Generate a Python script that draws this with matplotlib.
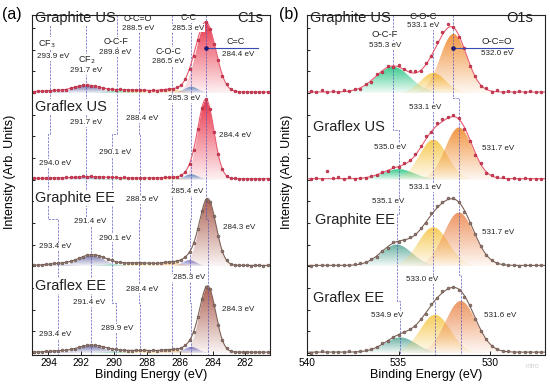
#! /usr/bin/env python3

import numpy as np
import matplotlib
matplotlib.use('Agg')
import matplotlib.pyplot as plt
from matplotlib.colors import LinearSegmentedColormap, to_rgb

plt.rcParams['font.family'] = ['Liberation Sans', 'DejaVu Sans']

##
## Samples, stacked from top to bottom
##
samples = ['Graphite US', 'Graflex US', 'Graphite EE', 'Graflex EE']
offsets = [3, 2, 1, 0]
background = 0.01

##
## C1s measured points (0.25 eV steps)
##
c1s_energy = np.round(np.arange(294.9, 280.6, -0.25), 2)
c1s_graphite_us = [0.015, 0.022, 0.018, 0.027, 0.024, 0.030, 0.028, 0.035, 0.038, 0.052,
                   0.063, 0.080, 0.086, 0.093, 0.083, 0.075, 0.062, 0.055, 0.043, 0.041,
                   0.035, 0.040, 0.034, 0.036, 0.032, 0.034, 0.030, 0.031, 0.025, 0.028,
                   0.027, 0.035, 0.038, 0.046, 0.049, 0.062, 0.090, 0.160, 0.275, 0.430,
                   0.605, 0.760, 0.822, 0.740, 0.565, 0.375, 0.200, 0.100, 0.045, 0.022,
                   0.014, 0.012, 0.009, 0.011, 0.010, 0.008, 0.011, 0.010]
c1s_graflex_us = [0.014, 0.013, 0.018, 0.017, 0.021, 0.019, 0.022, 0.020, 0.025, 0.026,
                  0.031, 0.033, 0.036, 0.035, 0.037, 0.032, 0.031, 0.028, 0.028, 0.024,
                  0.025, 0.023, 0.024, 0.021, 0.023, 0.021, 0.022, 0.019, 0.020, 0.018,
                  0.021, 0.021, 0.025, 0.024, 0.027, 0.033, 0.050, 0.092, 0.180, 0.345,
                  0.585, 0.825, 0.928, 0.812, 0.548, 0.292, 0.124, 0.046, 0.019, 0.013,
                  0.010, 0.011, 0.009, 0.010, 0.011, 0.009, 0.010, 0.010]
c1s_graphite_ee = [0.012, 0.016, 0.017, 0.024, 0.027, 0.033, 0.035, 0.042, 0.047, 0.060,
                   0.072, 0.095, 0.110, 0.126, 0.128, 0.125, 0.115, 0.103, 0.082, 0.067,
                   0.050, 0.048, 0.042, 0.042, 0.040, 0.043, 0.040, 0.041, 0.035, 0.036,
                   0.035, 0.040, 0.045, 0.051, 0.053, 0.062, 0.077, 0.112, 0.165, 0.268,
                   0.430, 0.635, 0.770, 0.745, 0.578, 0.350, 0.174, 0.071, 0.029, 0.015,
                   0.011, 0.010, 0.011, 0.009, 0.010, 0.011, 0.009, 0.010]
c1s_graflex_ee = [0.011, 0.014, 0.014, 0.019, 0.021, 0.024, 0.025, 0.031, 0.033, 0.043,
                  0.051, 0.066, 0.076, 0.087, 0.089, 0.087, 0.080, 0.070, 0.057, 0.049,
                  0.041, 0.038, 0.030, 0.028, 0.028, 0.032, 0.029, 0.031, 0.028, 0.029,
                  0.028, 0.033, 0.034, 0.040, 0.042, 0.047, 0.059, 0.092, 0.145, 0.248,
                  0.410, 0.620, 0.762, 0.736, 0.555, 0.322, 0.150, 0.058, 0.022, 0.013,
                  0.010, 0.011, 0.009, 0.010, 0.010, 0.009, 0.011, 0.010]

##
## C1s fitted components: CF3, CF2, O-C-F, O-C=O, C-O-C, C-C, C=C
##
c1s_names = ['CF$_3$', 'CF$_2$', 'O-C-F', 'O-C=O', 'C-O-C', 'C-C', 'C=C']
c1s_pos = [[293.9, 291.7, 289.8, 288.5, 286.5, 285.3, 284.4],
           [294.0, 291.7, 290.1, 288.4, 286.5, 285.3, 284.4],
           [293.4, 291.4, 290.1, 288.5, 286.5, 285.4, 284.3],
           [293.4, 291.4, 289.9, 288.4, 286.5, 285.3, 284.3]]
c1s_height = [[0.015, 0.08, 0.02, 0.02, 0.035, 0.07, 0.80],
              [0.010, 0.025, 0.01, 0.01, 0.015, 0.06, 0.91],
              [0.020, 0.12, 0.02, 0.03, 0.04, 0.07, 0.77],
              [0.012, 0.08, 0.015, 0.02, 0.03, 0.07, 0.76]]
c1s_fwhm = [[1.6, 1.9, 1.6, 1.6, 1.6, 1.0, 1.4],
            [1.6, 1.9, 1.6, 1.6, 1.6, 1.0, 1.15],
            [1.6, 1.9, 1.6, 1.6, 1.6, 1.0, 1.2],
            [1.6, 1.9, 1.6, 1.6, 1.6, 1.0, 1.15]]

##
## O1s measured points (0.3 eV steps)
##
o1s_energy = np.round(np.arange(539.8, 527.1, -0.3), 2)
o1s_graphite_us = [0.025, 0.010, 0.030, 0.005, 0.020, 0.012, 0.030, 0.018, 0.045, 0.050,
                   0.105, 0.130, 0.215, 0.245, 0.310, 0.300, 0.320, 0.270, 0.255, 0.250,
                   0.252, 0.345, 0.430, 0.590, 0.700, 0.790, 0.765, 0.640, 0.520, 0.310,
                   0.195, 0.080, 0.055, 0.015, 0.030, 0.008, 0.020, 0.012, 0.025, 0.010,
                   0.018, 0.005, 0.015]
o1s_graflex_us = [0.012, 0.020, 0.005, 0.095, 0.015, 0.030, 0.012, 0.025, 0.010, 0.022,
                  0.018, 0.040, 0.050, 0.085, 0.095, 0.140, 0.145, 0.190, 0.225, 0.300,
                  0.390, 0.505, 0.545, 0.650, 0.700, 0.720, 0.745, 0.710, 0.580, 0.440,
                  0.280, 0.190, 0.075, 0.050, 0.030, 0.025, 0.010, 0.018, 0.008, 0.015,
                  0.012, 0.005, 0.010]
o1s_graphite_ee = [0.008, 0.015, 0.020, 0.010, 0.018, 0.012, 0.015, 0.020, 0.022, 0.035,
                   0.050, 0.080, 0.110, 0.175, 0.215, 0.275, 0.280, 0.300, 0.335, 0.370,
                   0.440, 0.500, 0.610, 0.690, 0.745, 0.790, 0.785, 0.745, 0.630, 0.500,
                   0.370, 0.230, 0.125, 0.075, 0.040, 0.025, 0.012, 0.020, 0.008, 0.015,
                   0.010, 0.018, 0.012]
o1s_graflex_ee = [0.005, 0.015, 0.020, 0.008, 0.015, 0.010, 0.012, 0.018, 0.015, 0.025,
                  0.030, 0.045, 0.065, 0.110, 0.135, 0.185, 0.205, 0.245, 0.275, 0.310,
                  0.390, 0.455, 0.565, 0.640, 0.710, 0.755, 0.760, 0.725, 0.650, 0.550,
                  0.395, 0.255, 0.160, 0.085, 0.045, 0.025, 0.018, 0.010, 0.015, 0.008,
                  0.012, 0.010, 0.015]

##
## O1s fitted components: O-C-F, C-O-C, O-C=O
##
o1s_names = ['O-C-F', 'C-O-C', 'O-C=O']
o1s_pos = [[535.3, 533.1, 532.0],
           [535.0, 533.1, 531.7],
           [535.1, 533.1, 531.7],
           [534.9, 533.0, 531.6]]
o1s_height = [[0.30, 0.23, 0.68],
              [0.12, 0.46, 0.60],
              [0.25, 0.45, 0.62],
              [0.18, 0.44, 0.60]]
o1s_fwhm = [[2.2, 1.6, 1.7],
            [2.0, 1.8, 1.75],
            [2.0, 1.95, 1.95],
            [2.0, 1.95, 1.95]]

c1s_points = [c1s_graphite_us, c1s_graflex_us, c1s_graphite_ee, c1s_graflex_ee]
o1s_points = [o1s_graphite_us, o1s_graflex_us, o1s_graphite_ee, o1s_graflex_ee]
for p in c1s_points:
    assert len(p) == len(c1s_energy)
for p in o1s_points:
    assert len(p) == len(o1s_energy)

##
## Colours
##
c1s_col_us = ['#8c8cc0', '#6c6ca8', '#36c88a', '#f2d24a', '#f3a640', '#3d87c8', '#e8243c']
c1s_col_ee = ['#8c8cc0', '#6c6ca8', '#36c88a', '#f2d24a', '#f3a640', '#5a5ac0', '#a55040']
o1s_col_us = ['#22c47f', '#f6c544', '#f08a2e']
o1s_col_ee = ['#58a898', '#f6c544', '#ec8a50']
point_face = ['#d23a54', '#d23a54', '#8f746b', '#8f746b']
point_edge = ['#a02038', '#a02038', '#5e4a44', '#5e4a44']
fit_color = ['#e85a70', '#e85a70', '#7d6258', '#7d6258']
guide_color = '#5050b8'

YLIM = (-0.023, 3.898)


def gauss(x, center, height, fwhm):
    return height * np.exp(-4 * np.log(2) * ((x - center) / fwhm) ** 2)


def gradient_fill(ax, x, base, y, color, lo=0.06, hi=0.9, z=2):
    r, g, b = to_rgb(color)
    cmap = LinearSegmentedColormap.from_list('fade', [(r, g, b, lo), (r, g, b, hi)])
    poly = ax.fill_between(x, base, y, facecolor='none', edgecolor='none', zorder=z)
    im = ax.imshow(np.linspace(0, 1, 100).reshape(-1, 1), cmap=cmap, aspect='auto',
                   origin='lower', extent=(x.min(), x.max(), base, y.max()),
                   interpolation='bilinear', zorder=z)
    im.set_clip_path(poly.get_paths()[0], transform=ax.transData)


def draw_spectra(ax, grid, energy, points, pos, height, fwhm, col_us, col_ee):
    for i in range(4):
        off = offsets[i]
        cols = col_us if i < 2 else col_ee
        total = np.full_like(grid, background)
        for c, h, w, colr in zip(pos[i], height[i], fwhm[i], cols):
            comp = gauss(grid, c, h, w)
            total += comp
            sel = np.abs(grid - c) < 1.8 * w
            gradient_fill(ax, grid[sel], off, off + comp[sel], colr)
        ax.plot(grid, off + total, color=fit_color[i], lw=0.8, zorder=4)
        ax.plot(energy, off + np.array(points[i]), 'o', ms=2.1, mfc=point_face[i],
                mec=point_edge[i], mew=0.35, zorder=5)


def draw_guides(ax, pos, jogs, ytop):
    for k in range(len(pos[0])):
        col = [pos[i][k] for i in range(4)]
        jog = jogs[k]
        gx = [col[0]]
        gy = [ytop]
        for j in range(1, 4):
            gx += [col[j - 1], col[j]]
            gy += [jog[j - 1], jog[j - 1]]
        gx.append(col[3])
        gy.append(YLIM[0])
        ax.plot(gx, gy, color=guide_color, lw=0.55, ls=(0, (3, 1.5)), alpha=0.85, zorder=3)


box = dict(boxstyle='square,pad=0.08', fc='white', ec='none')


def label(ax, x, y, s, size=5.8, ha='center'):
    ax.text(x, y, s, fontsize=size, ha=ha, va='center', color='#222222',
            bbox=box, zorder=6)


def style_axes(ax, xlim, xticks):
    ax.set_xlim(*xlim)
    ax.set_ylim(*YLIM)
    ax.set_xticks(xticks)
    ax.set_yticks(np.arange(0, 3.9, 0.25))
    ax.tick_params(direction='in', length=3, width=0.6, labelsize=7.3, pad=2.5)
    ax.tick_params(axis='y', labelleft=False, length=2.5)
    for s in ax.spines.values():
        s.set_linewidth(0.8)
        s.set_color('#222222')
        s.set_zorder(10)
    ax.set_xlabel('Binding Energy (eV)', fontsize=9, labelpad=0.5)
    ax.set_ylabel('Intensity (Arb. Units)', fontsize=9)


fig = plt.figure(figsize=(5.5, 3.87), dpi=100)
ax_a = fig.add_axes([32 / 550, 1 - 355 / 387, 238 / 550, 340 / 387])
ax_b = fig.add_axes([307 / 550, 1 - 355 / 387, 238 / 550, 340 / 387])

##
## (a) C1s
##
grid_a = np.linspace(295, 280.5, 700)
draw_spectra(ax_a, grid_a, c1s_energy, c1s_points, c1s_pos, c1s_height, c1s_fwhm,
             c1s_col_us, c1s_col_ee)
draw_guides(ax_a, c1s_pos, [[2.52, 1.55, 0.58]] * 7, YLIM[1])

for name, y in zip(samples, [3.868, 2.837, 1.788, 0.773]):
    label(ax_a, 294.82, y, name, size=10.5, ha='left')
label(ax_a, 280.91, 3.868, 'C1s', size=10.5, ha='right')

ev = lambda v: f'{v:.1f} eV'
p = c1s_pos[0]
label(ax_a, 294.09, 3.564, c1s_names[0], 6.5)
label(ax_a, 293.72, 3.414, ev(p[0]))
label(ax_a, 291.65, 3.379, c1s_names[1], 6.5)
label(ax_a, 291.71, 3.253, ev(p[1]))
label(ax_a, 289.88, 3.587, c1s_names[2], 6.5)
label(ax_a, 289.94, 3.46, ev(p[2]))
label(ax_a, 288.54, 3.852, c1s_names[3], 6.5)
label(ax_a, 288.54, 3.748, ev(p[3]))
label(ax_a, 286.71, 3.472, c1s_names[4], 6.5)
label(ax_a, 286.71, 3.356, ev(p[4]))
label(ax_a, 285.49, 3.868, c1s_names[5], 6.5)
label(ax_a, 285.49, 3.748, ev(p[5]))
label(ax_a, 282.62, 3.587, c1s_names[6], 6.5)
label(ax_a, 282.44, 3.437, ev(p[6]))
ax_a.plot([p[6], 281.22], [3.518, 3.518], color='#3a4ab0', lw=0.8, zorder=5)
ax_a.plot([p[6]], [3.518], 'o', ms=2.3, color='#1a1a70', zorder=5)

# lower spectra: CF3, CF2, O-C-F, O-C=O, C-C, C=C
lower_a = [[(293.6, 2.19), (291.71, 2.653), (289.94, 2.307), (288.29, 2.699), (285.73, 2.93), (282.62, 2.503)],
           [(293.6, 1.223), (291.46, 1.511), (289.94, 1.326), (288.29, 1.765), (285.55, 1.857), (282.38, 1.453)],
           [(293.6, 0.208), (291.52, 0.577), (289.82, 0.288), (288.29, 0.738), (285.43, 0.865), (282.44, 0.496)]]
for i, spots in enumerate(lower_a, start=1):
    vals = [c1s_pos[i][k] for k in (0, 1, 2, 3, 5, 6)]
    for (x, y), v in zip(spots, vals):
        label(ax_a, x, y, ev(v))

style_axes(ax_a, (295, 280.5), [294, 292, 290, 288, 286, 284, 282])
ax_a.yaxis.set_label_coords(-0.067, 0.54)

##
## (b) O1s
##
grid_b = np.linspace(540, 527, 600)
draw_spectra(ax_b, grid_b, o1s_energy, o1s_points, o1s_pos, o1s_height, o1s_fwhm,
             o1s_col_us, o1s_col_ee)
draw_guides(ax_b, o1s_pos, [[2.57, 1.6, 0.6], [2.57, 1.6, 0.6], [2.94, 1.9, 0.9]], YLIM[1])

for name, x, y in zip(samples, [539.84, 539.67, 539.56, 539.67], [3.86, 2.607, 1.534, 0.634]):
    label(ax_b, x, y, name, size=10.5, ha='left')
label(ax_b, 527.67, 3.86, 'O1s', size=10.5, ha='right')

q = o1s_pos[0]
label(ax_b, 535.74, 3.668, o1s_names[0], 6.8)
label(ax_b, 535.74, 3.552, ev(q[0]))
label(ax_b, 533.67, 3.875, o1s_names[1], 6.8)
label(ax_b, 533.67, 3.775, ev(q[1]))
label(ax_b, 529.63, 3.587, o1s_names[2], 6.8)
label(ax_b, 529.63, 3.449, ev(q[2]))
ax_b.plot([q[2], 528.76], [3.518, 3.518], color='#3a4ab0', lw=0.8, zorder=5)
ax_b.plot([q[2]], [3.518], 'o', ms=2.3, color='#1a1a70', zorder=5)

lower_b = [[(535.47, 2.37), (533.56, 2.826), (529.58, 2.364)],
           [(535.58, 1.742), (533.56, 1.903), (529.58, 1.384)],
           [(535.64, 0.438), (533.73, 0.842), (529.47, 0.427)]]
for i, spots in enumerate(lower_b, start=1):
    for (x, y), v in zip(spots, o1s_pos[i]):
        label(ax_b, x, y, ev(v))

style_axes(ax_b, (540, 527), [540, 535, 530])
ax_b.yaxis.set_label_coords(-0.059, 0.54)

fig.text(2 / 550, 1 - 15 / 387, '(a)', fontsize=11.5, va='center', ha='left')
fig.text(279 / 550, 1 - 15 / 387, '(b)', fontsize=11.5, va='center', ha='left')
fig.text(532 / 550, 1 - 367 / 387, 'miro', fontsize=5, color='#d0d0d0',
         va='center', ha='center')

fig.savefig('out.png', dpi=100)
